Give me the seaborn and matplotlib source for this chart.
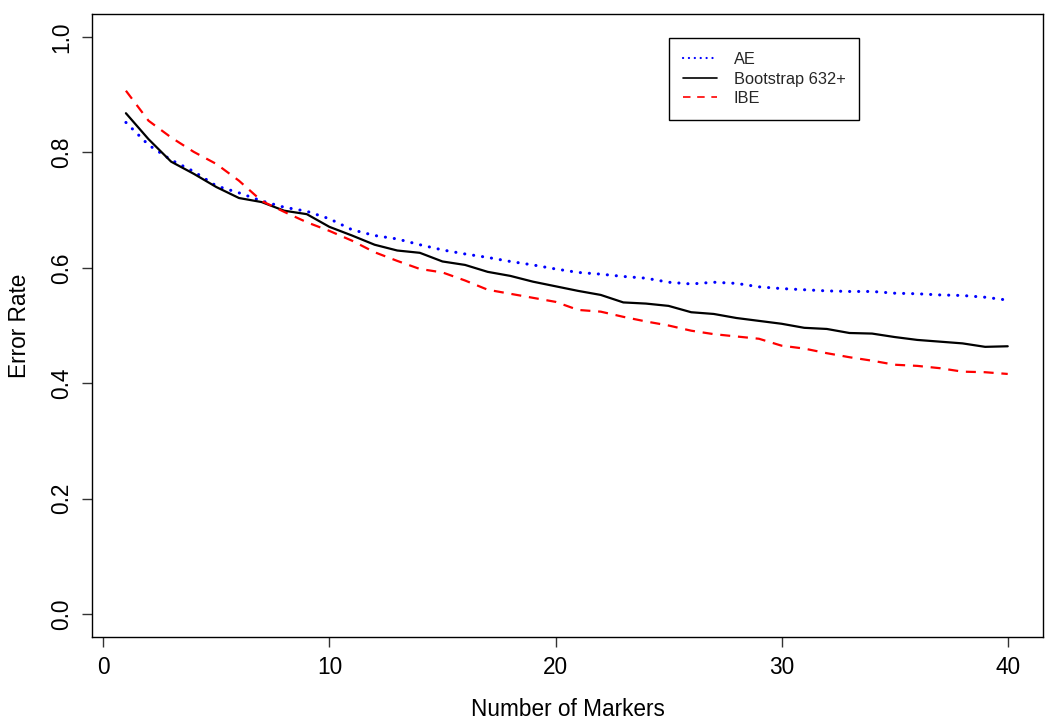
import numpy as np
import pandas as pd
import seaborn as sns
import matplotlib
matplotlib.use("Agg")
import matplotlib.pyplot as plt
from matplotlib.lines import Line2D

markers = list(range(1, 41))
ae = [0.852, 0.813, 0.787, 0.767, 0.742, 0.730, 0.716, 0.705, 0.698, 0.685,
      0.666, 0.656, 0.650, 0.640, 0.631, 0.624, 0.618, 0.611, 0.605, 0.598,
      0.592, 0.589, 0.585, 0.582, 0.575, 0.572, 0.575, 0.573, 0.567, 0.564,
      0.562, 0.560, 0.559, 0.559, 0.556, 0.555, 0.553, 0.552, 0.549, 0.544]
boot = [0.868, 0.823, 0.784, 0.763, 0.740, 0.721, 0.714, 0.699, 0.693, 0.671,
        0.656, 0.640, 0.630, 0.626, 0.611, 0.605, 0.593, 0.586, 0.576, 0.568,
        0.560, 0.553, 0.540, 0.538, 0.534, 0.523, 0.520, 0.513, 0.508, 0.503,
        0.496, 0.494, 0.487, 0.486, 0.480, 0.475, 0.472, 0.469, 0.463, 0.464]
ibe = [0.907, 0.855, 0.826, 0.801, 0.780, 0.751, 0.716, 0.697, 0.679, 0.664,
       0.647, 0.627, 0.612, 0.598, 0.592, 0.578, 0.562, 0.555, 0.548, 0.541,
       0.527, 0.524, 0.515, 0.507, 0.500, 0.491, 0.485, 0.481, 0.477, 0.465,
       0.460, 0.452, 0.445, 0.439, 0.432, 0.430, 0.426, 0.420, 0.419, 0.416]
series_names = ["AE", "Bootstrap 632+", "IBE"]
x_ticks = [0, 10, 20, 30, 40]
y_ticks = [0.0, 0.2, 0.4, 0.6, 0.8, 1.0]

df = pd.DataFrame({
    "Number of Markers": markers * 3,
    "Error Rate": ae + boot + ibe,
    "Method": [series_names[0]] * 40 + [series_names[1]] * 40 + [series_names[2]] * 40,
})

sns.set_theme(style="ticks")
plt.rcParams["font.family"] = ["Liberation Sans", "DejaVu Sans"]

fig = plt.figure(figsize=(10.5, 7.27), dpi=100)
ax = fig.add_axes([92 / 1050, 1 - 637 / 727, (1043 - 92) / 1050, (637 - 14) / 727])

palette = {"AE": "#0000ff", "Bootstrap 632+": "#000000", "IBE": "#ff0000"}
dashes = {"AE": (0.05, 2.9), "Bootstrap 632+": "", "IBE": (4.5, 3.5)}

sns.lineplot(data=df, x="Number of Markers", y="Error Rate", hue="Method",
             style="Method", palette=palette, dashes=dashes, linewidth=1.6,
             ax=ax, legend=False)

for ln in ax.lines:
    if ln.get_color() in ("#0000ff", (0.0, 0.0, 1.0)) or ln.get_color() == "#0000ff":
        ln.set_dash_capstyle("round")
        ln.set_linewidth(2.2)

ax.set_xlim(-0.5, 41.56)
ax.set_ylim(-0.04, 1.04)
ax.set_xticks(x_ticks)
ax.set_xticklabels([str(v) for v in x_ticks])
ax.set_yticks(y_ticks)
ax.set_yticklabels([f"{v:.1f}" for v in y_ticks], rotation=90, va="center")

for s in ax.spines.values():
    s.set_visible(True)
    s.set_color("black")
    s.set_linewidth(1.0)

ax.tick_params(axis="both", labelsize=16.3, length=7.5, width=1.0,
               color="#333333", labelcolor="black", pad=6)
ax.set_xlabel("Number of Markers", fontsize=16.3, labelpad=14, color="black")
ax.set_ylabel("Error Rate", fontsize=16.3, labelpad=14, color="black")

handles = [
    Line2D([], [], color=palette["AE"], linewidth=1.6, linestyle=(0, (0.05, 2.6)),
           dash_capstyle="round"),
    Line2D([], [], color="black", linewidth=1.2, linestyle="-"),
    Line2D([], [], color=palette["IBE"], linewidth=1.2, linestyle=(0, (4.5, 4.0))),
]
leg = ax.legend(handles, series_names, loc="upper left",
                bbox_to_anchor=((669 - 92) / 951, (637 - 38) / 623),
                fontsize=11.8, frameon=True, fancybox=False, shadow=False,
                edgecolor="black", framealpha=1, handlelength=2.1,
                handletextpad=1.0, labelspacing=0.28, borderpad=0.85,
                borderaxespad=0, ncol=1)
leg.get_frame().set_linewidth(1.0)
leg.get_frame().set_boxstyle("square", pad=0)

fig.savefig("out.png", dpi=100)
